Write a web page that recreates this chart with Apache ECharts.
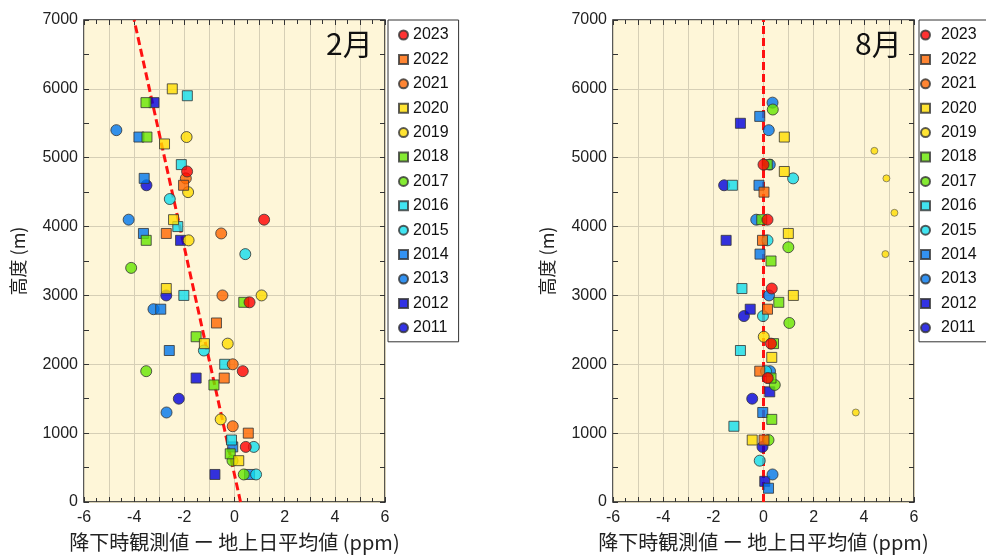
<!DOCTYPE html>
<html><head><meta charset="utf-8">
<script src="https://cdn.jsdelivr.net/npm/echarts@6/dist/echarts.min.js"></script>
<style>html,body{margin:0;padding:0;background:#fff}#c{width:986px;height:557px}</style>
</head><body><div id="c"></div>
<script>
// ---------- data ----------
const years = ['2023','2022','2021','2020','2019','2018','2017','2016','2015','2014','2013','2012','2011'];
const xTicks = [-6,-4,-2,0,2,4,6];
const yTicks = [0,1000,2000,3000,4000,5000,6000,7000];

// February (x: ppm difference, y: altitude m)
const feb2023 = [[-1.89,4800],[1.18,4100],[0.6,2900],[0.33,1900],[0.45,800]];
const feb2022 = [[-2.03,4600],[-2.72,3900],[-0.72,2600],[-0.41,1800],[0.55,1000]];
const feb2021 = [[-1.94,4700],[-0.53,3900],[-0.48,3000],[-0.07,2000],[-0.07,1100]];
const feb2020 = [[-2.48,6000],[-2.79,5200],[-2.43,4100],[-2.72,3100],[-1.2,2300],[0.17,600]];
const feb2019 = [[-1.91,5300],[-1.85,4500],[-1.83,3800],[1.08,3000],[-0.27,2300],[-0.55,1200]];
const feb2018 = [[-3.53,5800],[-3.49,5300],[-3.52,3800],[0.37,2900],[-1.53,2400],[-0.82,1700],[-0.17,700]];
const feb2017 = [[-4.12,3400],[-3.52,1900],[-0.08,600],[0.37,400]];
const feb2016 = [[-1.88,5900],[-2.12,4900],[-2.26,4000],[-2.02,3000],[-0.39,2000],[-0.12,900]];
const feb2015 = [[-2.58,4400],[0.43,3600],[-1.22,2200],[0.77,800],[0.86,400]];
const feb2014 = [[-3.81,5300],[-3.6,4700],[-3.63,3900],[-2.94,2800],[-2.6,2200],[-0.07,800],[0.6,400]];
const feb2013 = [[-4.71,5400],[-4.22,4100],[-3.23,2800],[-2.71,1300]];
const feb2012 = [[-3.21,5800],[-2.15,3800],[-1.53,1800],[-0.78,400]];
const feb2011 = [[-3.51,4600],[-2.72,3000],[-2.22,1500]];
const febTrend = [[0.24,0],[-4.0,7000]];

// August
const aug2023 = [[0.0,4900],[0.16,4100],[0.33,3100],[0.3,2300],[0.17,1800]];
const aug2022 = [[0.02,4500],[-0.04,3800],[0.16,2800],[-0.15,1900],[0.02,900]];
const aug2021 = [];
const aug2020 = [[0.83,5300],[0.83,4800],[0.99,3900],[1.19,3000],[0.33,2100],[-0.45,900]];
const aug2019 = [[0.01,2400]];
const aug2019small = [[4.42,5100],[4.9,4700],[5.22,4200],[4.86,3600],[3.68,1300]];
const aug2018 = [[0.15,4900],[-0.07,4100],[0.3,3500],[0.61,2900],[0.4,2300],[0.3,1800],[0.33,1200]];
const aug2017 = [[0.37,5700],[0.99,3700],[1.03,2600],[0.45,1700],[0.2,900]];
const aug2016 = [[-1.24,4600],[-0.86,3100],[-0.92,2200],[-1.18,1100]];
const aug2015 = [[1.18,4700],[0.16,3800],[-0.02,2700],[0.1,1900],[-0.15,600]];
const aug2014 = [[-0.15,5600],[-0.18,4600],[-0.14,3600],[-0.03,1300],[0.2,200]];
const aug2013 = [[0.36,5800],[0.21,5400],[0.25,4900],[-0.29,4100],[0.22,3000],[0.26,1900],[0.36,400]];
const aug2012 = [[-0.92,5500],[-1.49,3800],[-0.53,2800],[0.25,1600],[0.05,300]];
const aug2011 = [[-1.57,4600],[-0.78,2700],[-0.45,1500],[-0.04,800]];
const augTrend = [[0,0],[0,7000]];

const febData = [feb2023,feb2022,feb2021,feb2020,feb2019,feb2018,feb2017,feb2016,feb2015,feb2014,feb2013,feb2012,feb2011];
const augData = [aug2023,aug2022,aug2021,aug2020,aug2019,aug2018,aug2017,aug2016,aug2015,aug2014,aug2013,aug2012,aug2011];

// ---------- styles ----------
const colors = ['#ff0000','#ff6600','#ff6600','#ffdd00','#ffdd00','#66e600','#66e600','#11ddee','#11ddee','#0077ee','#0077ee','#0000dd','#0000dd'];
const symbols = ['circle','rect','circle','rect','circle','rect','circle','rect','circle','rect','circle','rect','circle'];
const FONT = '"Liberation Sans", Arial, sans-serif';
const CJK = '"Noto Sans CJK JP", sans-serif';

const grids = [
  {left:84, top:20, width:301, height:486},
  {left:613, top:20, width:301, height:486}
].map(g => Object.assign(g, {show:true, backgroundColor:'#fef6d8', borderColor:'#222', borderWidth:1.5}));

function xAx(gi, pos){
  const main = pos === 'bottom';
  return {
    type:'value', gridIndex:gi, position:pos, min:-6, max:6, interval:1,
    axisLine:{show:false, onZero:false},
    axisTick:{show:true, inside:true, length:5, lineStyle:{color:'#333'}},
    minorTick:{show:true, splitNumber:2, length:4, lineStyle:{color:'#333'}},
    splitLine:{show:main, lineStyle:{color:'#d6cfb6', width:1}},
    axisLabel:{show:main, color:'#222', fontFamily:FONT, fontSize:16, margin:8,
      formatter: v => xTicks.indexOf(v) >= 0 ? String(v) : ''},
    name: main ? '降下時観測値 ー 地上日平均値 (ppm)' : '',
    nameLocation:'middle', nameGap:30,
    nameTextStyle:{fontFamily:CJK, fontSize:20, color:'#222'}
  };
}
function yAx(gi, pos){
  const main = pos === 'left';
  return {
    type:'value', gridIndex:gi, position:pos, min:0, max:7000, interval:1000,
    axisLine:{show:false, onZero:false},
    axisTick:{show:true, inside:true, length:5, lineStyle:{color:'#333'}},
    minorTick:{show:true, splitNumber:2, length:5, lineStyle:{color:'#333'}},
    splitLine:{show:main, lineStyle:{color:'#d6cfb6', width:1}},
    axisLabel:{show:main, color:'#222', fontFamily:FONT, fontSize:16, margin:6,
      formatter: v => yTicks.indexOf(v) >= 0 ? String(v) : ''},
    name: main ? '高度 (m)' : '',
    nameLocation:'middle', nameGap:57, nameRotate:90,
    nameTextStyle:{fontFamily:CJK, fontSize:18, color:'#222'}
  };
}

const series = [];
function addPanel(data, trend, gi){
  series.push({
    type:'line', xAxisIndex:gi*2, yAxisIndex:gi*2, data:trend, symbol:'none', silent:true,
    lineStyle:{color:'#ff1111', width:3, type:[8,4]}, z:3
  });
  for (let i = years.length-1; i >= 0; i--){
    series.push({
      name:years[i], type:'scatter', xAxisIndex:gi*2, yAxisIndex:gi*2,
      data:data[i], symbol:symbols[i], symbolSize: symbols[i]==='circle' ? 11 : 10,
      itemStyle:{color:colors[i], borderColor:'#333', borderWidth:1}, z:4
    });
  }
}
addPanel(febData, febTrend, 0);
addPanel(augData, augTrend, 1);
series.push({
  name:'2019 ', type:'scatter', xAxisIndex:2, yAxisIndex:2, data:aug2019small,
  symbol:'circle', symbolSize:7, itemStyle:{color:'#ffdd00', borderColor:'#555', borderWidth:0.8}, z:4
});

function legend(left, padLeft, textPad){
  return {
    data: years, orient:'vertical', left:left, top:20, itemWidth:9, itemHeight:9, itemGap:8.4,
    padding:[7,10,6,padLeft], borderColor:'#333', borderWidth:1, backgroundColor:'#fff',
    selectedMode:false,
    textStyle:{fontFamily:FONT, fontSize:16, lineHeight:16, color:'#111', padding:[0,0,0,textPad]}
  };
}

const option = {
  animation:false,
  backgroundColor:'#fff',
  grid: grids,
  xAxis: [xAx(0,'bottom'), xAx(0,'top'), xAx(1,'bottom'), xAx(1,'top')],
  yAxis: [yAx(0,'left'), yAx(0,'right'), yAx(1,'left'), yAx(1,'right')],
  legend: [legend(388, 10, 0), legend(919, 1, 6)],
  graphic: [
    {type:'text', left:326, top:29, style:{text:'2月', font:'30px "Noto Sans CJK JP"', fill:'#111'}, z:10},
    {type:'text', left:855, top:29, style:{text:'8月', font:'30px "Noto Sans CJK JP"', fill:'#111'}, z:10}
  ],
  series: series
};
const chart = echarts.init(document.getElementById('c'), null, {renderer:'canvas'});
chart.setOption(option);
</script></body></html>
